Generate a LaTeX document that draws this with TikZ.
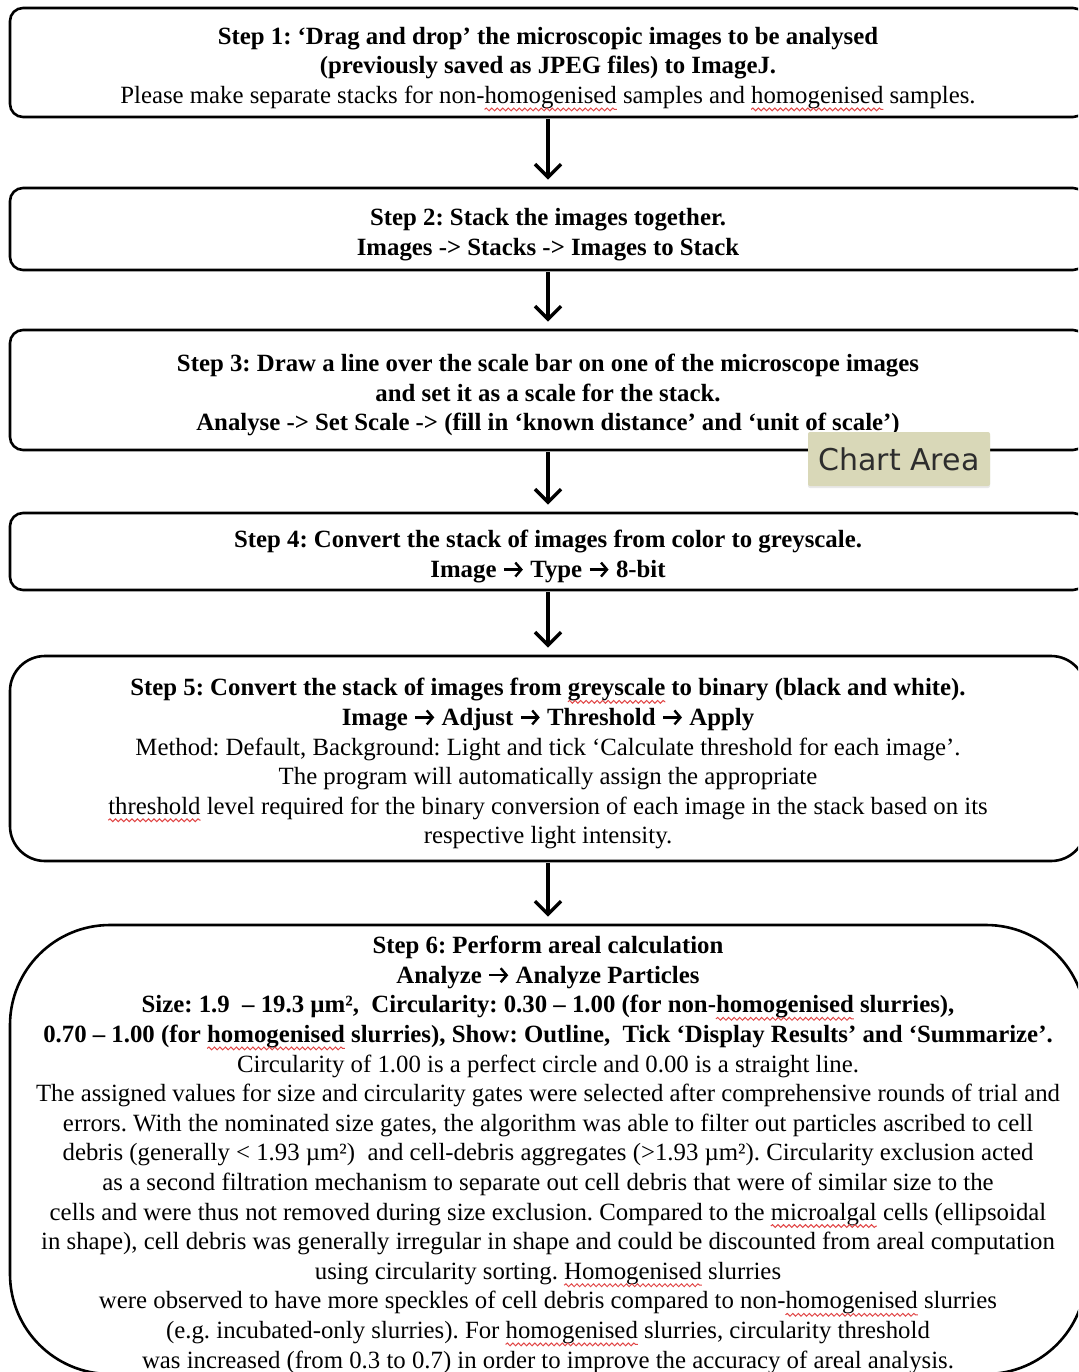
\documentclass[tikz,border=0pt]{standalone}
\usepackage{fontspec}
\setmainfont{Liberation Serif}
\newfontfamily\tipfont{DejaVu Sans}
\usetikzlibrary{arrows.meta,shadows,decorations.pathmorphing}
\definecolor{waveRed}{RGB}{225,70,70}
\definecolor{tipFill}{RGB}{217,216,184}
\definecolor{tipText}{RGB}{45,45,45}
\newlength\sqlen
\newsavebox\sqbox
\newcommand\sq[1]{\sbox\sqbox{#1}\setlength\sqlen{\wd\sqbox}\usebox\sqbox\tikz[overlay,x=1pt,y=1pt,sharp corners]\draw[waveRed,line width=1pt,sharp corners,decorate,decoration={snake,amplitude=1.4pt,segment length=5.5pt}] (-\sqlen,-6pt) -- (0pt,-6pt);}
\newcommand\ra{\tikz[baseline={(0,-8pt)},x=1pt,y=1pt,sharp corners]\draw[line width=2.4pt,-{Straight Barb[length=6pt,width=14pt,line width=2.4pt]}] (0,0) -- (19,0);}
\newcommand\tpad{\rule{0pt}{28pt}}
\tikzset{
  stepbox/.style={draw=black, line width=2.6pt, rectangle, minimum width=1076pt,
    align=center, inner sep=0pt, font=\fontsize{24.8}{29.6}\selectfont\frenchspacing},
  flow/.style={line width=3.5pt, -{Straight Barb[length=13pt,width=26pt,line width=3.5pt]}, shorten >=7pt, shorten <=1pt},
  tooltip/.style={fill=tipFill, rounded corners=2pt, minimum width=182pt, minimum height=54pt,
    inner sep=0pt, text=tipText, font=\tipfont\fontsize{30}{32}\selectfont,
    drop shadow={opacity=0.18, shadow xshift=0pt, shadow yshift=-2pt}}
}
\begin{document}
\begin{tikzpicture}[x=1pt,y=-1pt]
\path[use as bounding box, clip] (0,0) rectangle (1078,1372);
\fill[white] (0,0) rectangle (1078,1372);

\node[stepbox, rounded corners=13pt, minimum height=109pt] (b1) at (548,62.5)
  {\tpad\textbf{Step 1: ‘Drag and drop’ the microscopic images to be analysed}\\
   \textbf{(previously saved as JPEG files) to ImageJ.}\\
   Please make separate stacks for non-\sq{homogenised} samples and \sq{homogenised} samples.};

\node[stepbox, rounded corners=13pt, minimum height=82pt] (b2) at (548,229)
  {\tpad\textbf{Step 2: Stack the images together.}\\
   \textbf{Images -> Stacks -> Images to Stack}};

\node[stepbox, rounded corners=13pt, minimum height=120pt] (b3) at (548,390)
  {\tpad\textbf{Step 3: Draw a line over the scale bar on one of the microscope images}\\
   \textbf{and set it as a scale for the stack.}\\
   \textbf{Analyse -> Set Scale -> (fill in ‘known distance’ and ‘unit of scale’)}};

\node[stepbox, rounded corners=13pt, minimum height=77pt] (b4) at (548,551.5)
  {\tpad\textbf{Step 4: Convert the stack of images from color to greyscale.}\\
   \textbf{Image \ra{} Type \ra{} 8-bit}};

\node[stepbox, rounded corners=35pt, minimum height=205pt] (b5) at (548,758.5)
  {\tpad\textbf{Step 5: Convert the stack of images from \sq{greyscale} to binary (black and white).}\\
   \textbf{Image \ra{} Adjust \ra{} Threshold \ra{} Apply}\\
   Method: Default, Background: Light and tick ‘Calculate threshold for each image’.\\
   The program will automatically assign the appropriate\\
   \sq{threshold} level required for the binary conversion of each image in the stack based on its\\
   respective light intensity.};

\node[stepbox, rounded corners=100pt, minimum height=449pt] (b6) at (548,1149.5)
  {\tpad\textbf{Step 6: Perform areal calculation}\\
   \textbf{Analyze \ra{} Analyze Particles}\\
   \textbf{Size: 1.9 \ – 19.3 µm², \ Circularity: 0.30 – 1.00 (for non-\sq{homogenised} slurries),}\\
   \textbf{0.70 – 1.00 (for \sq{homogenised} slurries), Show: Outline, \ Tick ‘Display Results’ and ‘Summarize’.}\\
   Circularity of 1.00 is a perfect circle and 0.00 is a straight line.\\
   The assigned values for size and circularity gates were selected after comprehensive rounds of trial and\\
   errors. With the nominated size gates, the algorithm was able to filter out particles ascribed to cell\\
   debris (generally < 1.93 µm²) \ and cell-debris aggregates (>1.93 µm²). Circularity exclusion acted\\
   as a second filtration mechanism to separate out cell debris that were of similar size to the\\
   cells and were thus not removed during size exclusion. Compared to the \sq{microalgal} cells (ellipsoidal\\
   in shape), cell debris was generally irregular in shape and could be discounted from areal computation\\
   using circularity sorting. \sq{Homogenised} slurries\\
   were observed to have more speckles of cell debris compared to non-\sq{homogenised} slurries\\
   (e.g. incubated-only slurries). For \sq{homogenised} slurries, circularity threshold\\
   was increased (from 0.3 to 0.7) in order to improve the accuracy of areal analysis.};

\draw[flow] (b1.south) -- (b2.north);
\draw[flow] (b2.south) -- (b3.north);
\draw[flow] (b3.south) -- (b4.north);
\draw[flow] (b4.south) -- (b5.north);
\draw[flow] (b5.south) -- (b6.north);

\node[tooltip] (ca) at (899,459) {Chart Area};
\end{tikzpicture}
\end{document}
